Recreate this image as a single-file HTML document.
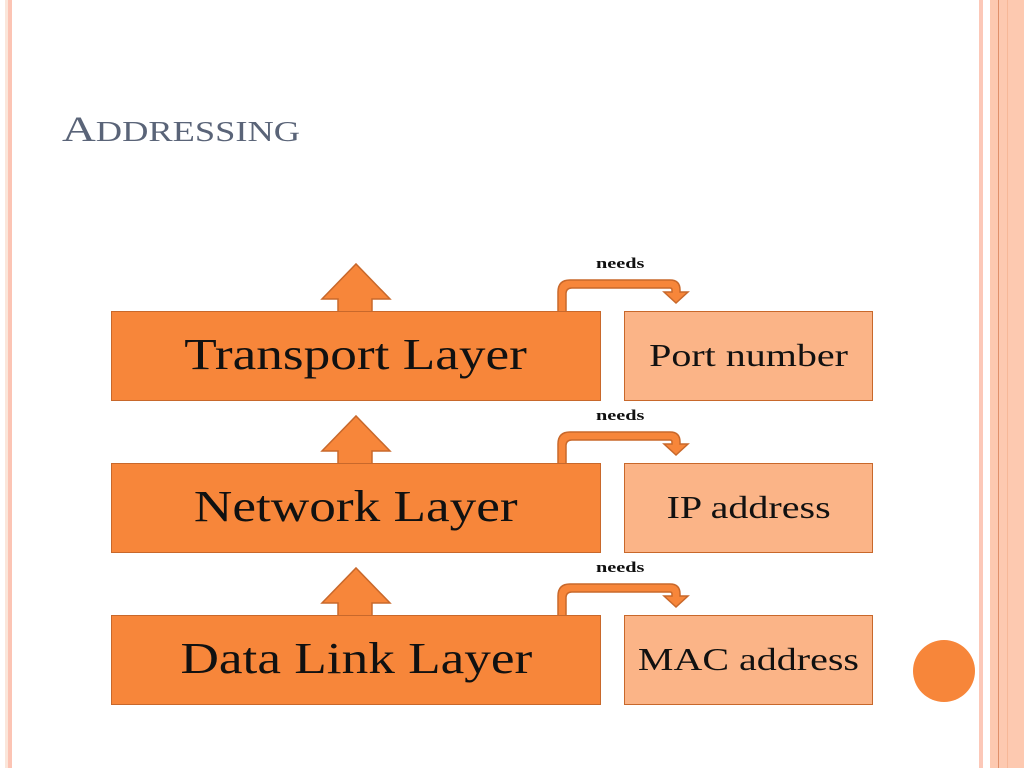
<!DOCTYPE html>
<html><head><style>
body{margin:0;width:1024px;height:768px;background:#fff;position:relative;overflow:hidden;font-family:"Liberation Serif",serif}
.s{position:absolute;top:0;height:768px}
.t{position:absolute;left:62px;top:108px;font-size:36px;color:#5a6478;transform:scaleX(1.3);transform-origin:left}
.L{position:absolute;left:111px;width:490px;height:90px;background:#f7863a;border:1.5px solid #c8682b;box-sizing:border-box;font-size:44px;text-align:center;line-height:86px;color:#111}
.R{position:absolute;left:624px;width:249px;height:90px;background:#fbb487;border:1.5px solid #c8682b;box-sizing:border-box;font-size:32px;text-align:center;line-height:86px;color:#111}
.L span{display:inline-block;transform:scaleX(1.21)}
.R span{display:inline-block;transform:scaleX(1.25)}
.n{position:absolute;left:596px;font-size:15px;font-weight:bold;color:#111;transform:scaleX(1.35);transform-origin:left}
</style></head><body>
<div class="s" style="left:5px;width:3px;background:#fbe6da"></div>
<div class="s" style="left:8px;width:4px;background:#fcc4b4"></div>
<div class="s" style="left:979px;width:4px;background:#fcc8b8"></div>
<div class="s" style="left:990px;width:34px;background:#fdc9b0"></div>
<div class="s" style="left:998px;width:1px;background:#e0906a"></div>
<div class="s" style="left:1007px;width:1px;background:#f7b898"></div>
<div class="t">A<span style="font-size:28px">DDRESSING</span></div>
<svg width="1024" height="768" style="position:absolute;left:0;top:0">
<g fill="#f7863a" stroke="#c8682b" stroke-width="1.5">
<path d="M338 312V299H322L356 264L390 299H372V312Z"/>
<path d="M338 464V451H322L356 416L390 451H372V464Z"/>
<path d="M338 616V603H322L356 568L390 603H372V616Z"/>
<path d="M558 312V292Q558 280 570 280H670Q680 280 680 290V292H688L676 303L664 292H672V290Q672 288 670 288H572Q566 288 566 294V312Z"/>
<path d="M558 464V444Q558 432 570 432H670Q680 432 680 442V444H688L676 455L664 444H672V442Q672 440 670 440H572Q566 440 566 446V464Z"/>
<path d="M558 616V596Q558 584 570 584H670Q680 584 680 594V596H688L676 607L664 596H672V594Q672 592 670 592H572Q566 592 566 598V616Z"/>
</g></svg>
<div class="L" style="top:311px"><span>Transport Layer</span></div>
<div class="L" style="top:463px"><span>Network Layer</span></div>
<div class="L" style="top:615px"><span>Data Link Layer</span></div>
<div class="R" style="top:311px"><span>Port number</span></div>
<div class="R" style="top:463px"><span>IP address</span></div>
<div class="R" style="top:615px"><span>MAC address</span></div>
<div class="n" style="top:256px">needs</div>
<div class="n" style="top:408px">needs</div>
<div class="n" style="top:560px">needs</div>
<div style="position:absolute;left:913px;top:640px;width:62px;height:62px;border-radius:50%;background:#f7863a"></div>
</body></html>
